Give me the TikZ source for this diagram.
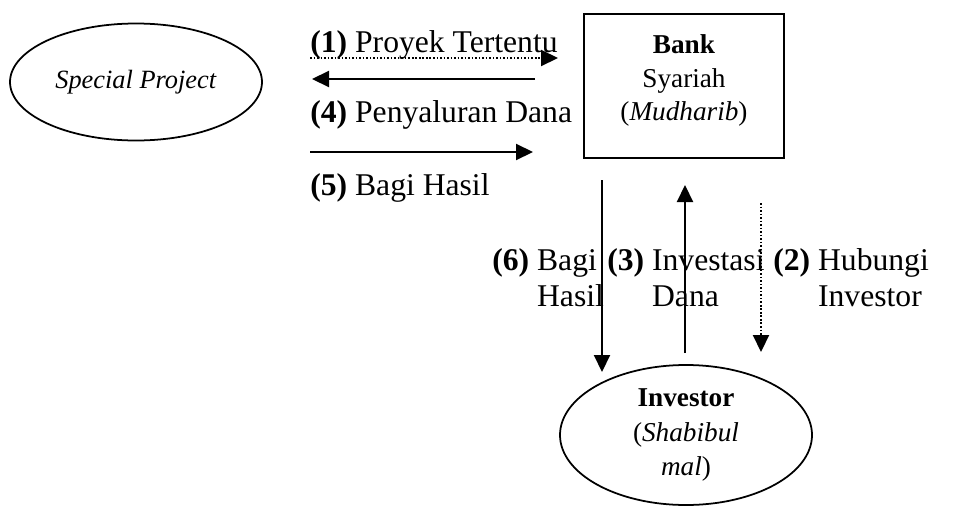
\documentclass[tikz,border=0pt]{standalone}
\usepackage{fontspec}
\setmainfont{Liberation Serif}
\usetikzlibrary{arrows.meta,shapes.geometric}

\begin{document}
\begin{tikzpicture}[
  arr/.style={line width=1.2pt,-{Triangle[length=0.34cm,width=0.32cm]}},
  dotarr/.style={arr,dash pattern=on 0.9pt off 1.1pt},
  lbl/.style={anchor=base west,inner sep=0pt,font=\fontsize{18}{20.5}\selectfont},
  party/.style={ellipse,draw,line width=1pt,inner sep=0pt,align=center,font=\fontsize{15.5}{19.5}\selectfont}
]

\useasboundingbox (0,0) rectangle (19.16,10.12);

\node[party,minimum width=5.04cm,minimum height=2.34cm] (proj) at (2.72,8.48) {\fontsize{15}{18}\selectfont\textit{Special Project}};

\node[draw,line width=1.1pt,anchor=north,inner sep=0pt,minimum width=4cm,text height=0.8cm,text depth=2.08cm,font=\fontsize{15.5}{19}\selectfont] (bank) at (13.68,9.86) {\begin{tabular}[t]{@{}c@{}}\textbf{Bank}\\Syariah\\(\textit{Mudharib})\end{tabular}};

\node[party,minimum width=5.04cm,minimum height=2.8cm] (inv) at (13.72,1.42) {\textbf{Investor}\\(\textit{Shabibul}\\\textit{mal})};

\coordinate (proyekA) at (6.2,8.96);
\coordinate (proyekB) at (11.16,8.96);
\coordinate (kembaliA) at (10.7,8.54);
\coordinate (kembaliB) at (6.24,8.54);
\coordinate (danaA) at (6.2,7.08);
\coordinate (danaB) at (10.66,7.08);
\coordinate (hasilA) at (12.04,6.52);
\coordinate (hasilB) at (12.04,2.68);
\coordinate (investA) at (13.7,3.06);
\coordinate (investB) at (13.7,6.42);
\coordinate (hubungA) at (15.22,6.06);
\coordinate (hubungB) at (15.22,3.08);

\draw[dotarr] (proyekA) -- (proyekB);

\draw[arr] (kembaliA) -- (kembaliB);

\draw[arr] (danaA) -- (danaB);

\draw[arr] (hasilA) -- (hasilB);

\draw[arr] (investA) -- (investB);

\draw[dotarr] (hubungA) -- (hubungB);

\node[lbl] (lblproyek) at (6.2,9.08) {\textbf{(1)} Proyek Tertentu};

\node[lbl] (lbldana) at (6.2,7.68) {\textbf{(4)} Penyaluran Dana};

\node[lbl] (lblhasil) at (6.2,6.22) {\textbf{(5)} Bagi Hasil};

\node[lbl] (lblbagi) at (9.84,4.72) {\begin{tabular}[t]{@{}l@{\ }l@{}}\textbf{(6)}&Bagi\\&Hasil\end{tabular}};

\node[lbl] (lblinvest) at (12.14,4.72) {\begin{tabular}[t]{@{}l@{\ }l@{}}\textbf{(3)}&Investasi\\&Dana\end{tabular}};

\node[lbl] (lblhubung) at (15.46,4.72) {\begin{tabular}[t]{@{}l@{\ }l@{}}\textbf{(2)}&Hubungi\\&Investor\end{tabular}};

\end{tikzpicture}
\end{document}
